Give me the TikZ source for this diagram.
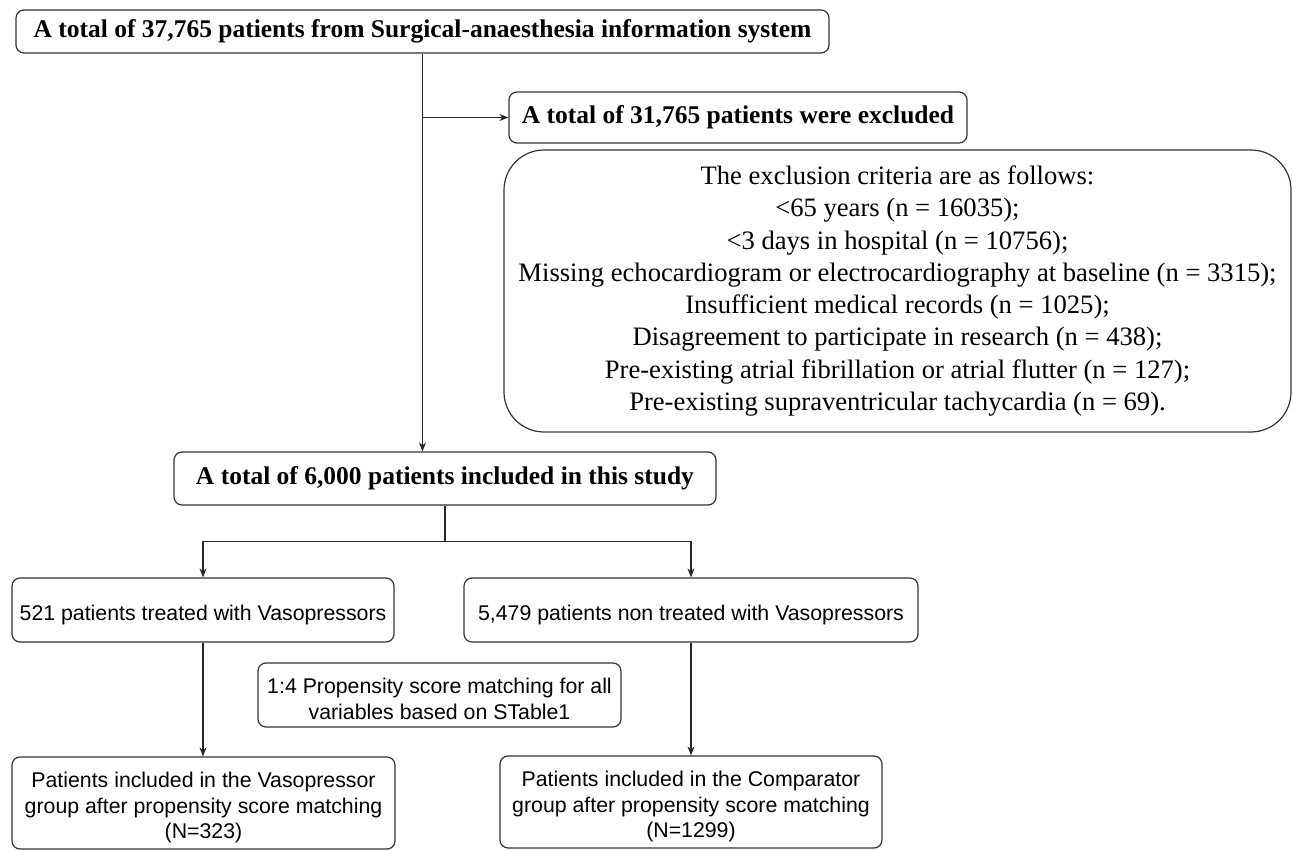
\documentclass[tikz,border=0pt]{standalone}
\usepackage{fontspec}
\setmainfont{Liberation Serif}
\setsansfont{Liberation Sans}
\usetikzlibrary{arrows.meta}

\tikzset{
  box/.style={draw=black!80, line width=1.2pt, rounded corners=8pt, inner sep=0pt, align=center},
  headbox/.style={box, font=\fontsize{25.5}{30}\selectfont\bfseries},
  critbox/.style={box, rounded corners=40pt, font=\fontsize{26.6}{32.3}\selectfont},
  groupbox/.style={box, font=\sffamily\fontsize{21.3}{25.5}\selectfont},
  flow/.style={draw=black!85, line width=1.1pt, -{Stealth[length=9pt,width=7pt]}}
}

\begin{document}
\begin{tikzpicture}[x=1pt, y=-1pt]
      \useasboundingbox (0,0) rectangle (1293,850);
      \clip (0,0) rectangle (1293,850);
      \node[headbox, minimum width=813pt, minimum height=43pt] (source) at (422.5,31.5) {A total of 37,765 patients from Surgical-anaesthesia information system};
      \node[headbox, minimum width=458pt, minimum height=51pt] (excluded) at (738,117.5) {A total of 31,765 patients were excluded};
      \node[critbox, minimum width=787pt, minimum height=282pt] (criteria) at (897.5,291) {The exclusion criteria are as follows:\\
      <65 years (n = 16035);\\
      <3 days in hospital (n = 10756);\\
      Missing echocardiogram or electrocardiography at baseline (n = 3315);\\
      Insufficient medical records (n = 1025);\\
      Disagreement to participate in research (n = 438);\\
      Pre-existing atrial fibrillation or atrial flutter (n = 127);\\
      Pre-existing supraventricular tachycardia (n = 69).};
      \node[headbox, minimum width=542pt, minimum height=53pt] (included) at (445,478.5) {A total of 6,000 patients included in this study};
      \node[groupbox, text height=25pt, minimum width=382pt, minimum height=64pt] (vaso) at (203,610) {521 patients treated with Vasopressors};
      \node[groupbox, text height=25pt, minimum width=454pt, minimum height=64pt] (nonvaso) at (691,610) {5,479 patients non treated with Vasopressors};
      \node[groupbox, text height=49pt, minimum width=363pt, minimum height=64pt] (psm) at (439.5,695) {1:4 Propensity score matching for all\\variables based on STable1};
      \node[groupbox, text height=76pt, minimum width=383pt, minimum height=92pt] (vasomatch) at (203.5,803) {Patients included in the Vasopressor\\group after propensity score matching\\(N=323)};
      \node[groupbox, text height=76pt, minimum width=382pt, minimum height=92pt] (compmatch) at (691,802) {Patients included in the Comparator\\group after propensity score matching\\(N=1299)};

      \draw[flow] (source.south) -- (source.south |- included.north);
      \draw[flow] (source.south |- excluded.west) -- (excluded.west);
      \draw[draw=black!85, line width=1.1pt] (included.south) -- ++(0,36) coordinate (split);
      \draw[flow] (split) -| (vaso.north);
      \draw[flow] (split) -| (nonvaso.north);
      \draw[flow] (vaso.south) -- (vasomatch.north -| vaso.south);
      \draw[flow] (nonvaso.south) -- (compmatch.north -| nonvaso.south);
    \end{tikzpicture}
\end{document}
